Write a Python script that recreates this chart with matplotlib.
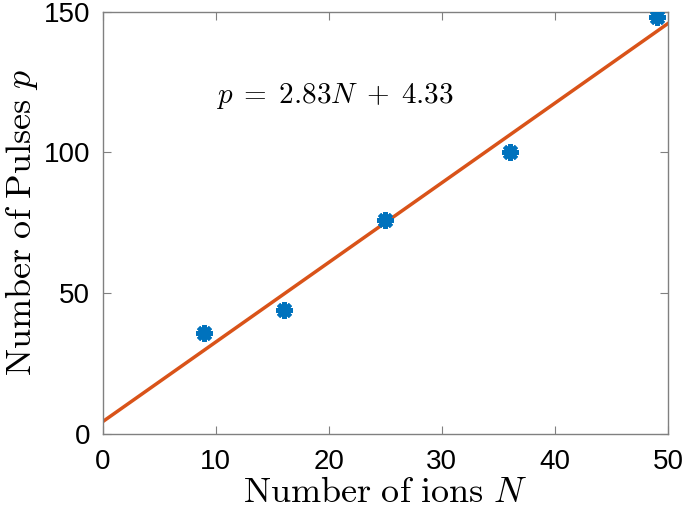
import matplotlib
import numpy as np

matplotlib.use('Agg')
import matplotlib.pyplot as plt

plt.rcParams['mathtext.fontset'] = 'cm'
plt.rcParams['font.family'] = ['Liberation Sans', 'DejaVu Sans']

ions = [9, 16, 25, 36, 49]
pulses = [36, 44, 76, 100, 148]
slope, intercept = 2.83, 4.33
fit_x = [0, 50]

fig = plt.figure(figsize=(6.85, 5.14), dpi=100)
ax = fig.add_axes([0.150, 0.156, 0.825, 0.821])

fit_y = [slope * x + intercept for x in fit_x]
ax.plot(fit_x, fit_y, color='#D95319', linewidth=2.5, zorder=2)
ax.plot(ions, pulses, linestyle='none', marker=(8, 2, 0), markersize=12,
        markeredgewidth=3, color='#0072BD', zorder=3)

ax.text(10, 120, r'$p\;=\;2.83N\;+\;4.33$', fontsize=21, va='center', ha='left')

ax.set_xlim(0, 50)
ax.set_ylim(0, 150)
ax.set_xticks([0, 10, 20, 30, 40, 50])
ax.set_yticks([0, 50, 100, 150])
ax.tick_params(direction='in', labelsize=20, length=6, color='#808080',
               top=True, right=True)
ax.tick_params(axis='x', pad=11)
ax.tick_params(axis='y', pad=9)
for s in ax.spines.values():
    s.set_color('#808080')
    s.set_linewidth(1.0)

ax.set_xlabel(r'$\mathrm{Number\ of\ ions}\ N$', fontsize=26, labelpad=0)
ax.set_ylabel(r'$\mathrm{Number\ of\ Pulses}\ p$', fontsize=26, labelpad=3)

fig.savefig('out.png', dpi=100)
plt.close(fig)
